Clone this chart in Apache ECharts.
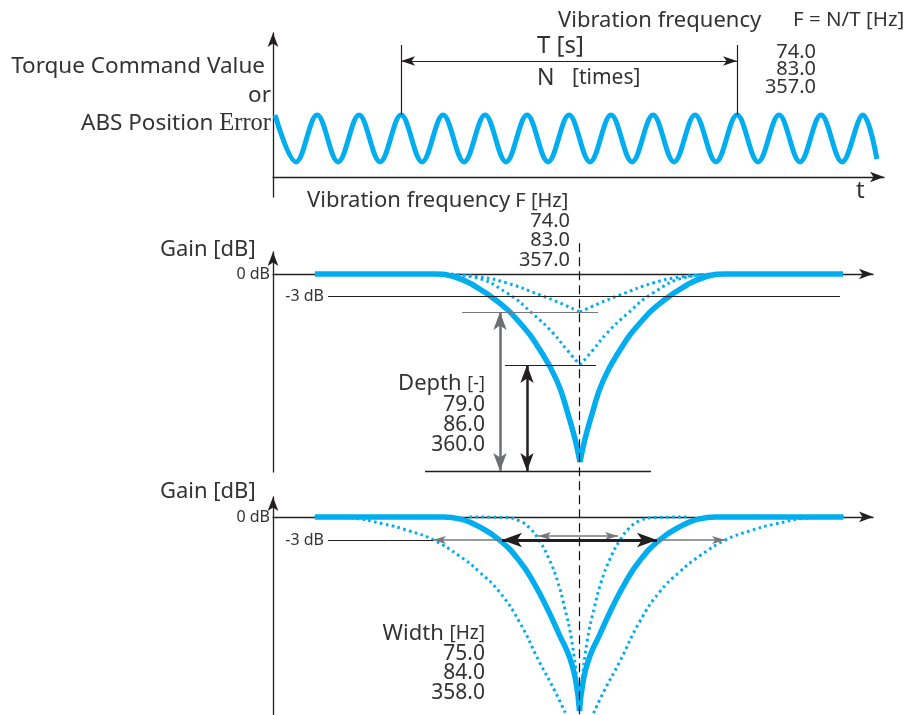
<!DOCTYPE html>
<html><head><meta charset="utf-8">
<script src="https://cdn.jsdelivr.net/npm/echarts@6/dist/echarts.min.js"></script>
<style>html,body{margin:0;padding:0;background:#fff}#c{width:908px;height:715px}</style>
</head><body><div id="c"></div>
<script>
// ---------- Panel 1: vibration waveform (time in periods, signal level) ----------
const waveT = [0,0.5,1,1.5,2,2.5,3,3.5,4,4.5,5,5.5,6,6.5,7,7.5,8,8.5,9,9.5,10,10.5,11,11.5,12,12.5,13,13.5,14,14.33];
const waveV = [3.1,0.75,3.1,0.75,3.1,0.75,3.1,0.75,3.1,0.75,3.1,0.75,3.1,0.75,3.1,0.75,3.1,0.75,3.1,0.75,3.1,0.75,3.1,0.75,3.1,0.75,3.1,0.75,3.1,0.9];
const periodMarks = [3, 11];          // start / end of measured window T (periods)
const periodPeak = 3.1, periodTop = 6.6, periodArrow = 5.8;
const topFreqLabels = ['74.0', '83.0', '357.0'];

// ---------- Panel 2: notch depth (frequency [Hz], gain [dB]) ----------
const depthThickL = [[42,0],[162,0],[182,-0.41],[200,-1.5],[224,-3.68],[247,-6.68],[267,-10.36],[284,-14.59],[295,-19.09],[302,-22.5],[307,-25.64]];
const depthThickR = [[307,-25.64],[312,-22.5],[319,-19.09],[330,-14.59],[347,-10.36],[367,-6.68],[390,-3.68],[414,-1.5],[432,-0.41],[452,0],[570,0]];
const depthShallowL = [[172,0],[207,-0.41],[234,-1.23],[267,-2.86],[287,-3.95],[307,-5.18]];
const depthShallowR = [[307,-5.18],[327,-3.95],[347,-2.86],[380,-1.23],[407,-0.41],[442,0]];
const depthDeepL = [[172,0],[200,-0.41],[234,-2.59],[260,-5.45],[280,-8.05],[294,-10.36],[307,-12.41]];
const depthDeepR = [[307,-12.41],[320,-10.36],[334,-8.05],[354,-5.45],[380,-2.59],[414,-0.41],[442,0]];
const notchCenter = 306.5;
const depthLevels = {minus3:-3, shallow:-5.18, deep:-12.41, bottom:-26.86};
const depthLabels = ['79.0', '86.0', '360.0'];
const midFreqLabels = ['74.0', '83.0', '357.0'];

// ---------- Panel 3: notch width (frequency [Hz], gain [dB]) ----------
const widthThickL = [[42,0],[170.5,0],[186.5,-0.26],[206.5,-1.3],[226.5,-3.0],[246.5,-5.74],[261.5,-8.74],[274.5,-12.0],[286.5,-15.39],[296.5,-18.26],[302.5,-21.13],[306.5,-25.3]];
const widthThickR = [[306.5,-25.3],[310.5,-21.13],[316.5,-18.26],[326.5,-15.39],[338.5,-12.0],[351.5,-8.74],[366.5,-5.74],[386.5,-3.0],[406.5,-1.3],[426.5,-0.26],[442.5,0],[570,0]];
const widthOuterL = [[41.5,0],[76.5,-0.13],[110.5,-0.91],[136.5,-1.83],[160.5,-3.0],[186.5,-5.09],[206.5,-7.17],[226.5,-9.78],[246.5,-13.69],[266.5,-18.91],[281.5,-22.57],[292.5,-25.57]];
const widthOuterR = [[320.5,-25.57],[331.5,-22.57],[346.5,-18.91],[366.5,-13.69],[386.5,-9.78],[406.5,-7.17],[426.5,-5.09],[452.5,-3.0],[476.5,-1.83],[502.5,-0.91],[536.5,-0.13],[571.5,0]];
const widthInnerL = [[196.5,0],[231.5,-0.07],[246.5,-0.52],[256.5,-1.43],[266.5,-3.13],[276.5,-5.61],[284.5,-8.35],[291.5,-11.74],[298.5,-15.91],[303.5,-20.87]];
const widthInnerR = [[309.5,-20.87],[314.5,-15.91],[321.5,-11.74],[328.5,-8.35],[336.5,-5.61],[346.5,-3.13],[356.5,-1.43],[366.5,-0.52],[381.5,-0.07],[416.5,0]];
const widthSpans = {thick:[229,384], outer:[160,452], inner:[265,345]};
const widthLabels = ['75.0', '84.0', '358.0'];

// ---------------------------------------------------------------
const BLUE = '#00aeef', INK = '#231f20', GRAY = '#77787b', TXT = '#333333';
const FONT = '"Noto Sans", "Open Sans", sans-serif';

function axis(gridIndex, min, max, onZero, extra) {
  return Object.assign({
    type: 'value', gridIndex, min, max,
    axisLine: {show: true, onZero, symbol: ['none', 'arrow'], symbolSize: [8, 14],
               lineStyle: {color: INK, width: 1.3}},
    axisTick: {show: false}, axisLabel: {show: false}, splitLine: {show: false}
  }, extra || {});
}
const dbLabel = {show: true, customValues: [0], formatter: v => v + ' dB',
                 fontSize: 16, color: TXT, fontFamily: FONT, margin: 3};

function curve(xi, data, width, dotted, z) {
  return {type: 'line', xAxisIndex: xi, yAxisIndex: xi, data, smooth: 0.5,
          showSymbol: false, silent: true, z: z || 2,
          lineStyle: {color: BLUE, width, type: dotted ? [2.6, 3.4] : 'solid', cap: 'butt'}};
}
function seg(a, b, color, width, arrows, size) {
  const s = arrows ? 'arrow' : 'none';
  return [{coord: a, symbol: s, symbolSize: size || [8, 14], lineStyle: {color, width, type: 'solid'}},
          {coord: b, symbol: s, symbolSize: size || [8, 14]}];
}
function marks(xi, lines, z) {
  return {type: 'line', xAxisIndex: xi, yAxisIndex: xi, data: [], silent: true, z: z || 5,
          markLine: {silent: true, animation: false, symbol: 'none', label: {show: false},
                     emphasis: {disabled: true}, data: lines}};
}
function minus3(a, b) {
  const l = seg(a, b, INK, 1.2, false);
  l[0].label = {show: true, position: 'start', formatter: '-3 dB', fontSize: 16,
                color: TXT, fontFamily: FONT, distance: 4};
  return l;
}

const series = [
  // panel 1
  {type: 'line', xAxisIndex: 0, yAxisIndex: 0, data: waveT.map((t, i) => [t, waveV[i]]),
   smooth: 0.36, showSymbol: false, silent: true, lineStyle: {color: BLUE, width: 5}},
  marks(0, [
    seg([periodMarks[0], periodPeak], [periodMarks[0], periodTop], INK, 1.2, false),
    seg([periodMarks[1], periodPeak], [periodMarks[1], periodTop], INK, 1.2, false),
    seg([periodMarks[0], periodArrow], [periodMarks[1], periodArrow], INK, 1.2, true, [7, 14])
  ]),
  // panel 2
  curve(1, depthShallowL, 3, true), curve(1, depthShallowR, 3, true),
  curve(1, depthDeepL, 3, true), curve(1, depthDeepR, 3, true),
  curve(1, depthThickL, 5.5, false, 3), curve(1, depthThickR, 5.5, false, 3),
  marks(1, [
    minus3([55, depthLevels.minus3], [567, depthLevels.minus3]),
    seg([189, depthLevels.shallow], [325, depthLevels.shallow], GRAY, 1.2, false),
    seg([232, depthLevels.deep], [323, depthLevels.deep], INK, 1.2, false),
    seg([152, depthLevels.bottom], [378, depthLevels.bottom], INK, 1.3, false),
    seg([227, depthLevels.shallow], [227, depthLevels.bottom], '#6d6e71', 2.5, true, [10, 18]),
    seg([254, depthLevels.deep], [254, depthLevels.bottom], INK, 2.5, true, [10, 18])
  ], 1),
  {type: 'line', xAxisIndex: 1, yAxisIndex: 1, data: [[notchCenter, 4.2], [notchCenter, -60.2]],
   clip: false, showSymbol: false, silent: true, z: 6,
   lineStyle: {color: '#111111', width: 1.2, type: [9, 5]}},
  // panel 3
  curve(2, widthOuterL, 3, true), curve(2, widthOuterR, 3, true),
  curve(2, widthInnerL, 3, true), curve(2, widthInnerR, 3, true),
  curve(2, widthThickL, 5.5, false, 3), curve(2, widthThickR, 5.5, false, 3),
  marks(2, [
    minus3([55, -3], [widthSpans.outer[0], -3]),
    seg([widthSpans.outer[0], -3], [widthSpans.outer[1], -3], GRAY, 1.5, true, [6, 13]),
    seg([widthSpans.inner[0], -2.48], [widthSpans.inner[1], -2.48], GRAY, 1.5, true, [6, 13]),
    seg([widthSpans.thick[0], -3], [widthSpans.thick[1], -3], INK, 3, true, [11, 20])
  ], 5)
];

function txt(x, y, text, size, align, extra) {
  return {type: 'text', x, y, silent: true, z: 10,
    style: Object.assign({text, fontSize: size, fontFamily: FONT, fill: TXT,
      align: align || 'left', textAlign: align || 'left',
      verticalAlign: 'middle', textVerticalAlign: 'middle'}, extra || {})};
}
function stack(x, yFirst, arr, size, lh) {
  return {type: 'text', x, y: yFirst - lh / 2, silent: true, z: 10,
    style: {text: arr.join('\n'), fontSize: size, fontFamily: FONT, fill: TXT, lineHeight: lh,
      align: 'right', textAlign: 'right', verticalAlign: 'top', textVerticalAlign: 'top'}};
}
function rich(x, y, a, sa, b, sb, align, fontB) {
  return txt(x, y, '{a|' + a + '}{b|' + b + '}', sa, align, {rich: {
    a: {fontSize: sa, fontFamily: FONT, fill: TXT},
    b: {fontSize: sb, fontFamily: fontB || FONT, fill: TXT}}});
}

const graphics = [
  txt(265, 67, 'Torque Command Value', 22.5, 'right'),
  txt(271, 96, 'or', 22.5, 'right'),
  rich(271, 124, 'ABS Position ', 22.5, 'Error', 24.5, 'right', '"Liberation Serif", serif'),
  txt(558, 21, 'Vibration frequency', 22),
  txt(793, 20, 'F = N/T [Hz]', 20.5),
  txt(537, 46, 'T [s]', 24),
  txt(537, 78, 'N', 23),
  txt(572, 78, '[times]', 21),
  stack(816, 52, topFreqLabels, 20, 17.5),
  txt(856, 191, 't', 24),
  rich(307, 201, 'Vibration frequency', 22, ' F [Hz]', 20, 'left'),
  stack(570, 221, midFreqLabels, 20, 19.5),
  txt(160, 250, 'Gain [dB]', 22),
  rich(485, 384, 'Depth ', 22, '[-]', 18, 'right'),
  stack(485, 405, depthLabels, 21, 20),
  txt(160, 492, 'Gain [dB]', 22),
  rich(485, 634, 'Width ', 22, '[Hz]', 19, 'right'),
  stack(485, 654, widthLabels, 21, 19.5)
];

const option = {
  animation: false,
  backgroundColor: '#ffffff',
  grid: [
    {left: 273, top: 33, width: 611, height: 164},
    {left: 273, top: 252, width: 600, height: 220},
    {left: 273, top: 497, width: 600, height: 218}
  ],
  xAxis: [
    axis(0, -0.05, 14.5, true),
    axis(1, 0, 600, true),
    axis(2, 0, 600, true)
  ],
  yAxis: [
    axis(0, -1, 7.2, false),
    axis(1, -27, 3, false, {axisLabel: dbLabel}),
    axis(2, -25.8, 2.6, false, {axisLabel: dbLabel})
  ],
  series,
  graphic: graphics
};
const chart = echarts.init(document.getElementById('c'));
chart.setOption(option);
</script></body></html>
